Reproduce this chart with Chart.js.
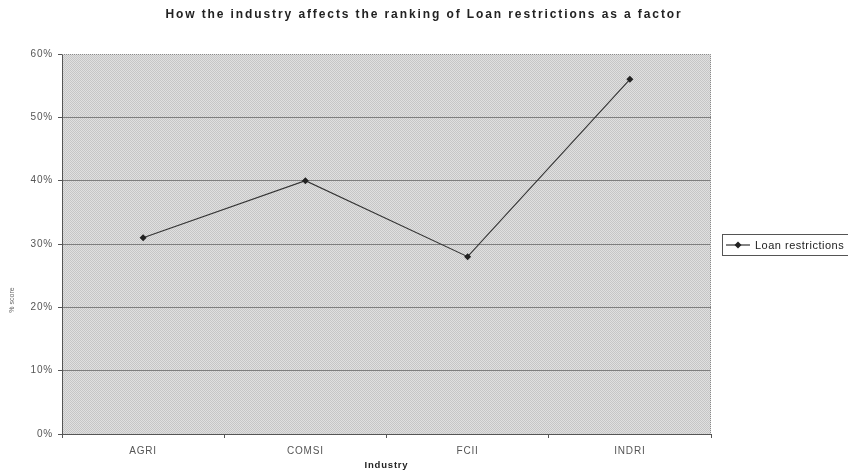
<!DOCTYPE html>
<html>
<head>
<meta charset="utf-8">
<script src="https://cdn.jsdelivr.net/npm/chart.js@4/dist/chart.umd.min.js"></script>
<style>
  html, body { margin: 0; padding: 0; background: #fff; }
  #wrap { width: 848px; height: 476px; }
</style>
</head>
<body>
<div id="wrap"><canvas id="c" width="848" height="476"></canvas></div>
<script>
// Industry categories and the share of respondents ranking loan restrictions as a factor
const industries = ['AGRI', 'COMSI', 'FCII', 'INDRI'];
const loanRestrictions = [31, 40, 28, 56];
const yTickValues = [0, 10, 20, 30, 40, 50, 60];

const chartTitle = 'How the industry affects the ranking of Loan restrictions as a factor';
const seriesName = 'Loan restrictions';
const xAxisTitle = 'Industry';
const yAxisTitle = '% score';

const FONT = "'Liberation Sans', Arial, Helvetica, sans-serif";
Chart.defaults.font.family = FONT;

// Fine checkered grey fill for the plot area
function ditherPattern(ctx) {
  const p = document.createElement('canvas');
  p.width = 2; p.height = 2;
  const g = p.getContext('2d');
  g.fillStyle = '#e0e0e0'; g.fillRect(0, 0, 2, 2);
  g.fillStyle = '#c6c6c6'; g.fillRect(0, 0, 1, 1); g.fillRect(1, 1, 1, 1);
  return ctx.createPattern(p, 'repeat');
}

const plotDecor = {
  id: 'plotDecor',
  beforeDraw(chart) {
    const { ctx, chartArea: a } = chart;
    ctx.save();
    ctx.fillStyle = '#ffffff';
    ctx.fillRect(0, 0, chart.width, chart.height);
    ctx.fillStyle = ditherPattern(ctx);
    ctx.fillRect(a.left, a.top, a.right - a.left, a.bottom - a.top);
    ctx.restore();
    // slightly spaced lettering for the axis labels
    ctx.letterSpacing = '0.8px';
  },
  beforeDatasetsDraw(chart) {
    const { ctx, chartArea: a } = chart;
    ctx.save();
    ctx.strokeStyle = '#8a8a8a';
    ctx.lineWidth = 1;
    ctx.setLineDash([1, 1]);
    ctx.beginPath();
    ctx.moveTo(a.left, a.top + 0.5);
    ctx.lineTo(a.right - 0.5, a.top + 0.5);
    ctx.lineTo(a.right - 0.5, a.bottom);
    ctx.stroke();
    ctx.restore();
  },
  afterDraw(chart) {
    const { ctx } = chart;
    ctx.letterSpacing = '0px';
    ctx.save();
    // chart title
    ctx.fillStyle = '#222';
    ctx.font = 'bold 12px ' + FONT;
    ctx.textAlign = 'center';
    ctx.textBaseline = 'middle';
    ctx.letterSpacing = '1.9px';
    ctx.fillText(chartTitle, 424, 15);
    ctx.letterSpacing = '0px';

    // rotated value-axis title
    ctx.save();
    ctx.translate(12, 300);
    ctx.rotate(-Math.PI / 2);
    ctx.font = '7px ' + FONT;
    ctx.fillStyle = '#666';
    ctx.fillText(yAxisTitle, 0, 0);
    ctx.restore();

    // legend
    const lx = 722, ly = 234;
    ctx.strokeStyle = '#555';
    ctx.lineWidth = 1;
    ctx.strokeRect(lx + 0.5, ly + 0.5, 140, 21);
    const my = ly + 11;
    ctx.strokeStyle = '#333';
    ctx.lineWidth = 1.2;
    ctx.beginPath();
    ctx.moveTo(lx + 4, my);
    ctx.lineTo(lx + 28, my);
    ctx.stroke();
    ctx.fillStyle = '#222';
    ctx.beginPath();
    ctx.moveTo(lx + 16, my - 3.5);
    ctx.lineTo(lx + 19.5, my);
    ctx.lineTo(lx + 16, my + 3.5);
    ctx.lineTo(lx + 12.5, my);
    ctx.closePath();
    ctx.fill();
    ctx.font = '11px ' + FONT;
    ctx.letterSpacing = '0.5px';
    ctx.textAlign = 'left';
    ctx.fillStyle = '#222';
    ctx.fillText(seriesName, lx + 33, my + 0.5);
    ctx.letterSpacing = '0px';
    ctx.restore();
  }
};

new Chart(document.getElementById('c'), {
  type: 'line',
  data: {
    labels: industries,
    datasets: [{
      label: seriesName,
      data: loanRestrictions,
      borderColor: '#333',
      borderWidth: 1.1,
      backgroundColor: '#222',
      pointStyle: 'rectRot',
      pointRadius: 3.5,
      pointBorderWidth: 0,
      pointBackgroundColor: '#222',
      tension: 0,
      fill: false
    }]
  },
  options: {
    responsive: false,
    animation: false,
    events: [],
    layout: { padding: { top: 54, right: 137, left: 0, bottom: 0 } },
    plugins: {
      legend: { display: false },
      title: { display: false },
      tooltip: { enabled: false }
    },
    scales: {
      x: {
        offset: true,
        afterFit(scale) { scale.height = 42; },
        grid: {
          offset: true,
          drawOnChartArea: false,
          drawTicks: true,
          tickLength: 4,
          color: '#555'
        },
        border: { display: true, color: '#555', width: 1 },
        ticks: {
          padding: 7,
          color: '#555',
          font: { size: 10 },
          maxRotation: 0
        },
        title: {
          display: true,
          text: xAxisTitle,
          color: '#222',
          font: { size: 9.5, weight: 'bold' },
          padding: { top: 0, bottom: 5 }
        }
      },
      y: {
        min: 0,
        max: 60,
        afterFit(scale) { scale.width = 62; },
        afterBuildTicks(scale) { scale.ticks = yTickValues.map(v => ({ value: v })); },
        grid: {
          color: ctx => (ctx.tick && ctx.tick.value === 60 ? 'rgba(0,0,0,0)' : '#7e7e7e'),
          tickColor: '#555',
          drawTicks: true,
          tickLength: 4,
          lineWidth: 1
        },
        border: { display: true, color: '#555', width: 1 },
        ticks: {
          padding: 5,
          color: '#555',
          font: { size: 10 },
          callback: v => v + '%'
        }
      }
    }
  },
  plugins: [plotDecor]
});
</script>
</body>
</html>
